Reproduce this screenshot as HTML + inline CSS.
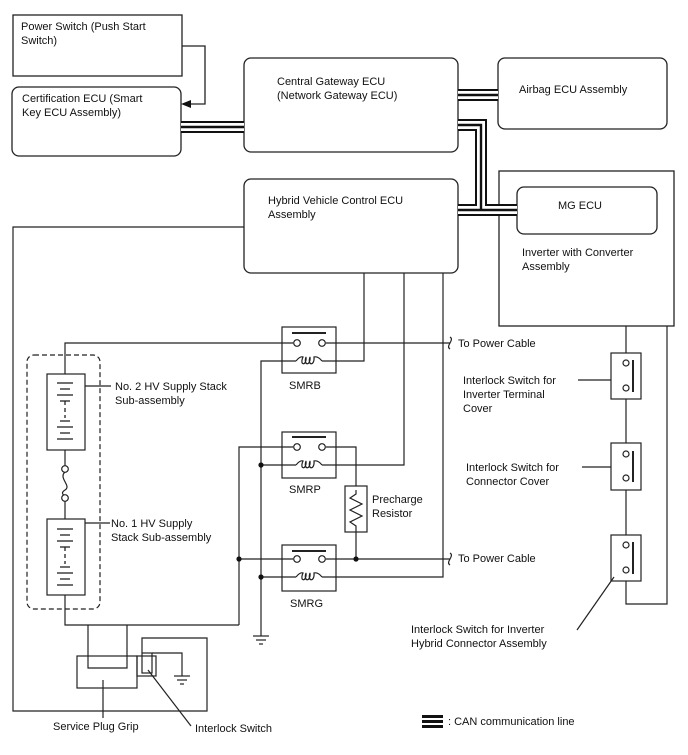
<!DOCTYPE html>
<html><head><meta charset="utf-8"><style>
html,body{margin:0;padding:0;background:#fff}
svg{display:block}
text{font-family:"Liberation Sans",sans-serif;font-size:11px;fill:#111}
</style></head><body>
<svg width="688" height="755" viewBox="0 0 688 755" xmlns="http://www.w3.org/2000/svg">
<g fill="none" stroke="#222" stroke-width="1.3">
<!-- boxes -->
<rect x="13" y="15" width="169" height="61"/>
<rect x="12" y="87" width="169" height="69" rx="7"/>
<rect x="244" y="58" width="214" height="94" rx="7"/>
<rect x="498" y="58" width="169" height="71" rx="7"/>
<rect x="499" y="171" width="175" height="155"/>
<rect x="517" y="187" width="140" height="47" rx="7"/>
<rect x="244" y="179" width="214" height="94" rx="7"/>
<!-- power switch arrow -->
<polyline points="182,46 205,46 205,104 190,104"/>
</g>
<polygon points="181,104 191,100 191,108" fill="#111"/>
<!-- CAN lines -->
<g fill="none" stroke-linejoin="miter">
<g stroke="#111" stroke-width="12">
<line x1="181" y1="127" x2="244" y2="127"/>
<line x1="458" y1="95" x2="498" y2="95"/>
<polyline points="458,125 481,125 481,210"/>
<line x1="458" y1="210" x2="517" y2="210"/>
</g>
<g stroke="#fff" stroke-width="8">
<line x1="181" y1="127" x2="244" y2="127"/>
<line x1="458" y1="95" x2="498" y2="95"/>
<polyline points="458,125 481,125 481,210"/>
<line x1="458" y1="210" x2="517" y2="210"/>
</g>
<g stroke="#111" stroke-width="2.4">
<line x1="181" y1="127" x2="244" y2="127"/>
<line x1="458" y1="95" x2="498" y2="95"/>
<polyline points="458,125 481,125 481,210"/>
<line x1="458" y1="210" x2="517" y2="210"/>
</g>
</g>
<g fill="none" stroke="#222" stroke-width="1.2">
<!-- big left loop -->
<polyline points="244,227 13,227 13,711 207,711 207,638 142,638 142,653"/>
<!-- HV ECU outputs -->
<polyline points="364,273 364,361 322,361"/>
<polyline points="404,273 404,465 322,465"/>
<polyline points="443,273 443,577 322,577"/>
<!-- SMRB -->
<rect x="282" y="327" width="54" height="46"/>
<rect x="282" y="432" width="54" height="46"/>
<rect x="282" y="545" width="54" height="46"/>
<!-- main positive line -->
<polyline points="65,374 65,343 293,343"/>
<line x1="326" y1="343" x2="450" y2="343"/>
<!-- SMRP -->
<polyline points="239,625 239,447 293,447"/>
<polyline points="326,447 356,447 356,486"/>
<line x1="356" y1="532" x2="356" y2="559"/>
<rect x="345" y="486" width="22" height="46"/>
<polyline points="356,490 356,494 350,498 362,504 350,510 362,516 350,522 356,526 356,532"/>
<!-- SMRG -->
<line x1="239" y1="559" x2="293" y2="559"/>
<line x1="326" y1="559" x2="450" y2="559"/>
<!-- coil ground bus -->
<polyline points="296,361 261,361 261,636"/>
<line x1="261" y1="465" x2="296" y2="465"/>
<line x1="261" y1="577" x2="296" y2="577"/>
<!-- ground symbols -->
<line x1="253" y1="636" x2="269" y2="636"/>
<line x1="256" y1="640" x2="266" y2="640"/>
<line x1="259" y1="644" x2="263" y2="644"/>
<!-- battery -->
<rect x="27" y="355" width="73" height="254" rx="7" stroke-dasharray="5,3"/>
<rect x="47" y="374" width="38" height="76"/>
<rect x="47" y="519" width="38" height="76"/>
<line x1="65" y1="450" x2="65" y2="466"/>
<line x1="65" y1="501" x2="65" y2="519"/>
<path d="M65,472 C58,478 72,486 65,490 C60,493 64,496 65,495"/>
<polyline points="65,595 65,625 239,625"/>
<polyline points="88,625 88,668 127,668 127,625"/>
<rect x="77" y="656" width="60" height="32"/>
<rect x="137" y="656" width="19" height="20"/>
<rect x="142" y="653" width="10" height="20"/>
<polyline points="152,653 182,653 182,676"/>
<line x1="174" y1="676" x2="190" y2="676"/>
<line x1="177" y1="680" x2="187" y2="680"/>
<line x1="180" y1="684" x2="184" y2="684"/>
<!-- battery label lines -->
<line x1="85" y1="386" x2="111" y2="386"/>
<line x1="85" y1="523" x2="110" y2="523"/>
<!-- pointers -->
<line x1="103" y1="680" x2="103" y2="718"/>
<line x1="148" y1="670" x2="191" y2="726"/>
<!-- right interlock loop -->
<polyline points="626,326 626,604 667,604 667,326"/>
<rect x="611" y="353" width="30" height="46" fill="#fff"/>
<rect x="611" y="443" width="30" height="47" fill="#fff"/>
<rect x="611" y="535" width="30" height="46" fill="#fff"/>
<line x1="578" y1="380" x2="611" y2="380"/>
<line x1="582" y1="467" x2="611" y2="467"/>
<line x1="614" y1="577" x2="577" y2="630"/>
</g>
<!-- relay internals -->
<g fill="#fff" stroke="#222" stroke-width="1.2">
<line x1="292" y1="333" x2="326" y2="333" stroke-width="2"/>
<circle cx="297" cy="343" r="3.3"/><circle cx="322" cy="343" r="3.3"/>
<line x1="292" y1="437" x2="326" y2="437" stroke-width="2"/>
<circle cx="297" cy="447" r="3.3"/><circle cx="322" cy="447" r="3.3"/>
<line x1="292" y1="551" x2="326" y2="551" stroke-width="2"/>
<circle cx="297" cy="559" r="3.3"/><circle cx="322" cy="559" r="3.3"/>
<g fill="none">
<path d="M296,361 Q300,356 303,357 C299,366 307,366 306,357 C303,366 311,366 310,357 C307,366 315,366 314,357 Q318,356 322,361"/>
<path d="M296,465 Q300,460 303,461 C299,470 307,470 306,461 C303,470 311,470 310,461 C307,470 315,470 314,461 Q318,460 322,465"/>
<path d="M296,577 Q300,572 303,573 C299,582 307,582 306,573 C303,582 311,582 310,573 C307,582 315,582 314,573 Q318,572 322,577"/>
<path d="M450,337 C455,340 445,346 450,349"/>
<path d="M450,553 C455,556 445,562 450,565"/>
</g>
<circle cx="65" cy="469" r="3.3"/><circle cx="65" cy="498" r="3.3"/>
<!-- switches -->
<circle cx="626" cy="363" r="3"/><circle cx="626" cy="388" r="3"/>
<line x1="633" y1="360" x2="633" y2="392" stroke-width="2"/>
<circle cx="626" cy="454" r="3"/><circle cx="626" cy="478" r="3"/>
<line x1="633" y1="451" x2="633" y2="482" stroke-width="2"/>
<circle cx="626" cy="545" r="3"/><circle cx="626" cy="570" r="3"/>
<line x1="633" y1="542" x2="633" y2="574" stroke-width="2"/>
</g>
<!-- battery plates -->
<g stroke="#222" stroke-width="1.3">
<line x1="57" y1="383" x2="73" y2="383"/><line x1="60" y1="389" x2="70" y2="389"/>
<line x1="57" y1="395" x2="73" y2="395"/><line x1="60" y1="401" x2="70" y2="401"/>
<line x1="65" y1="401" x2="65" y2="418" stroke-dasharray="4,3"/>
<line x1="60" y1="421" x2="70" y2="421"/><line x1="57" y1="427" x2="73" y2="427"/>
<line x1="60" y1="433" x2="70" y2="433"/><line x1="57" y1="439" x2="73" y2="439"/>
<line x1="57" y1="529" x2="73" y2="529"/><line x1="60" y1="535" x2="70" y2="535"/>
<line x1="57" y1="541" x2="73" y2="541"/><line x1="60" y1="547" x2="70" y2="547"/>
<line x1="65" y1="547" x2="65" y2="564" stroke-dasharray="4,3"/>
<line x1="60" y1="567" x2="70" y2="567"/><line x1="57" y1="573" x2="73" y2="573"/>
<line x1="60" y1="579" x2="70" y2="579"/><line x1="57" y1="585" x2="73" y2="585"/>
</g>
<!-- dots -->
<g fill="#111">
<circle cx="261" cy="465" r="2.6"/><circle cx="261" cy="577" r="2.6"/>
<circle cx="239" cy="559" r="2.6"/><circle cx="356" cy="559" r="2.6"/>
</g>
<!-- legend -->
<g fill="#111"><rect x="422" y="715" width="21" height="3"/><rect x="422" y="720" width="21" height="3"/><rect x="422" y="725" width="21" height="3"/></g>
<!-- text -->
<text x="21" y="30">Power Switch (Push Start</text>
<text x="21" y="44">Switch)</text>
<text x="22" y="102">Certification ECU (Smart</text>
<text x="22" y="116">Key ECU Assembly)</text>
<text x="277" y="85">Central Gateway ECU</text>
<text x="277" y="99">(Network Gateway ECU)</text>
<text x="519" y="93">Airbag ECU Assembly</text>
<text x="268" y="204">Hybrid Vehicle Control ECU</text>
<text x="268" y="218">Assembly</text>
<text x="558" y="209">MG ECU</text>
<text x="522" y="256">Inverter with Converter</text>
<text x="522" y="270">Assembly</text>
<text x="458" y="347">To Power Cable</text>
<text x="458" y="562">To Power Cable</text>
<text x="115" y="390">No. 2 HV Supply Stack</text>
<text x="115" y="404">Sub-assembly</text>
<text x="111" y="527">No. 1 HV Supply</text>
<text x="111" y="541">Stack Sub-assembly</text>
<text x="289" y="389">SMRB</text>
<text x="289" y="493">SMRP</text>
<text x="290" y="607">SMRG</text>
<text x="372" y="503">Precharge</text>
<text x="372" y="517">Resistor</text>
<text x="463" y="384">Interlock Switch for</text>
<text x="463" y="398">Inverter Terminal</text>
<text x="463" y="412">Cover</text>
<text x="466" y="471">Interlock Switch for</text>
<text x="466" y="485">Connector Cover</text>
<text x="411" y="633">Interlock Switch for Inverter</text>
<text x="411" y="647">Hybrid Connector Assembly</text>
<text x="53" y="730">Service Plug Grip</text>
<text x="195" y="732">Interlock Switch</text>
<text x="448" y="725">: CAN communication line</text>
</svg>
</body></html>
